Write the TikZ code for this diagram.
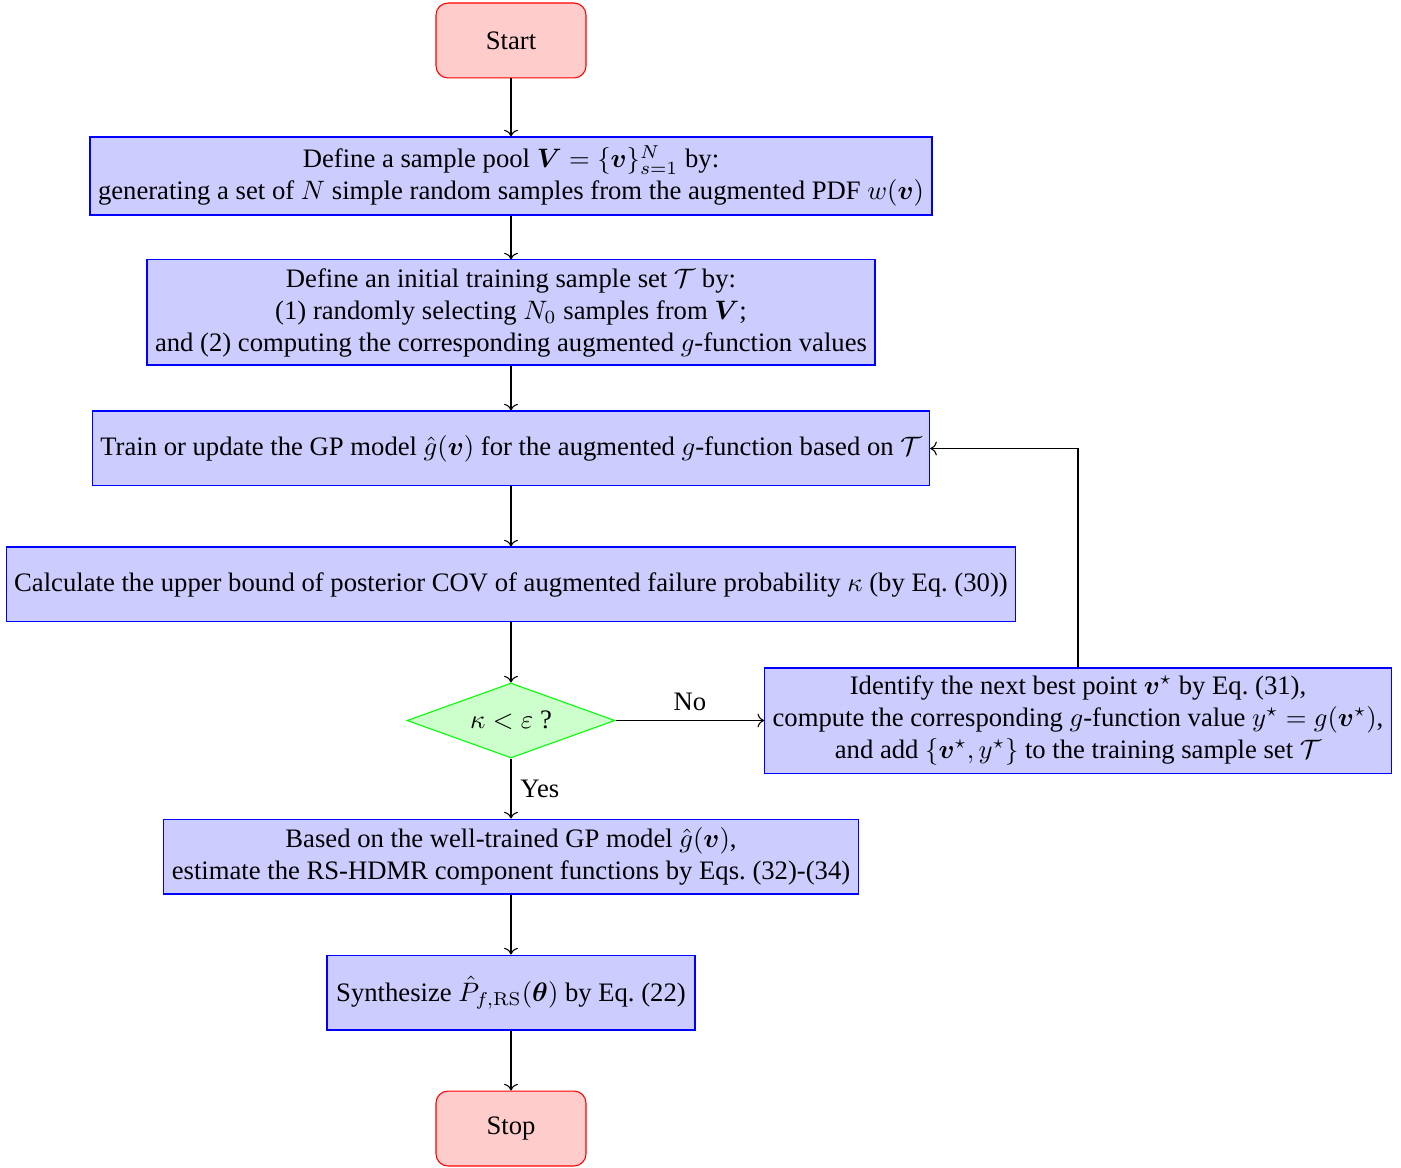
\documentclass[tikz,border=0pt]{standalone}
\usepackage{amsmath}
\usepackage[no-math]{fontspec}
\setmainfont{Liberation Serif}
\usetikzlibrary{shapes.geometric,arrows.meta}
\begin{document}
\begin{tikzpicture}[x=0.375pt,y=-0.375pt,
  startstop/.style={rectangle, rounded corners=4.5pt, draw=red, fill=red!20, minimum width=56.25pt, minimum height=28.1pt},
  process/.style={rectangle, draw=blue, fill=blue!20, align=center, inner xsep=3pt, inner ysep=2pt},
  decision/.style={diamond, draw=green, fill=green!20, aspect=2.77, inner sep=0pt, minimum width=78pt, minimum height=28.1pt},
  arr/.style={->}]
\useasboundingbox (0,0) rectangle (1401,1168);
\node[startstop] (start) at (511,40.5) {Start};
\node[process, minimum width=315pt, minimum height=29.25pt] (b1) at (511,176)
  {Define a sample pool $\boldsymbol{V}=\{\boldsymbol{v}\}_{s=1}^{N}$ by:\\
   generating a set of $N$ simple random samples from the augmented PDF $w(\boldsymbol{v})$};
\node[process, minimum width=273pt, minimum height=39.4pt] (b2) at (511,312.5)
  {Define an initial training sample set $\mathcal{T}$ by:\\
   (1) randomly selecting $N_0$ samples from $\boldsymbol{V}$;\\
   and (2) computing the corresponding augmented $g$-function values};
\node[process, minimum width=312.75pt, minimum height=28.1pt] (b3) at (511,448.5)
  {Train or update the GP model $\hat{g}(\boldsymbol{v})$ for the augmented $g$-function based on $\mathcal{T}$};
\node[process, minimum width=377.25pt, minimum height=28.1pt] (b4) at (511,584.5)
  {Calculate the upper bound of posterior COV of augmented failure probability $\kappa$ (by Eq.~(30))};
\node[decision] (dec) at (511,720.5) {$\kappa<\varepsilon$ ?};
\node[process, minimum width=234.75pt, minimum height=39.4pt] (id) at (1078,720.5)
  {Identify the next best point $\boldsymbol{v}^{\star}$ by Eq.~(31),\\
   compute the corresponding $g$-function value $y^{\star}=g(\boldsymbol{v}^{\star})$,\\
   and add $\{\boldsymbol{v}^{\star},y^{\star}\}$ to the training sample set $\mathcal{T}$};
\node[process, minimum width=260.25pt, minimum height=28.1pt] (b5) at (511,856.5)
  {Based on the well-trained GP model $\hat{g}(\boldsymbol{v})$,\\
   estimate the RS-HDMR component functions by Eqs.~(32)-(34)};
\node[process, minimum width=138pt, minimum height=28.1pt] (b6) at (511,992.5)
  {Synthesize $\hat{P}_{f,\mathrm{RS}}(\boldsymbol{\theta})$ by Eq.~(22)};
\node[startstop] (stop) at (511,1128.5) {Stop};
\draw[arr] (start) -- (b1);
\draw[arr] (b1) -- (b2);
\draw[arr] (b2) -- (b3);
\draw[arr] (b3) -- (b4);
\draw[arr] (b4) -- (dec);
\draw[arr] (dec) -- node[above] {No} (id);
\draw[arr] (dec) -- node[right] {Yes} (b5);
\draw[arr] (id.north) |- (b3.east);
\draw[arr] (b5) -- (b6);
\draw[arr] (b6) -- (stop);
\end{tikzpicture}
\end{document}
